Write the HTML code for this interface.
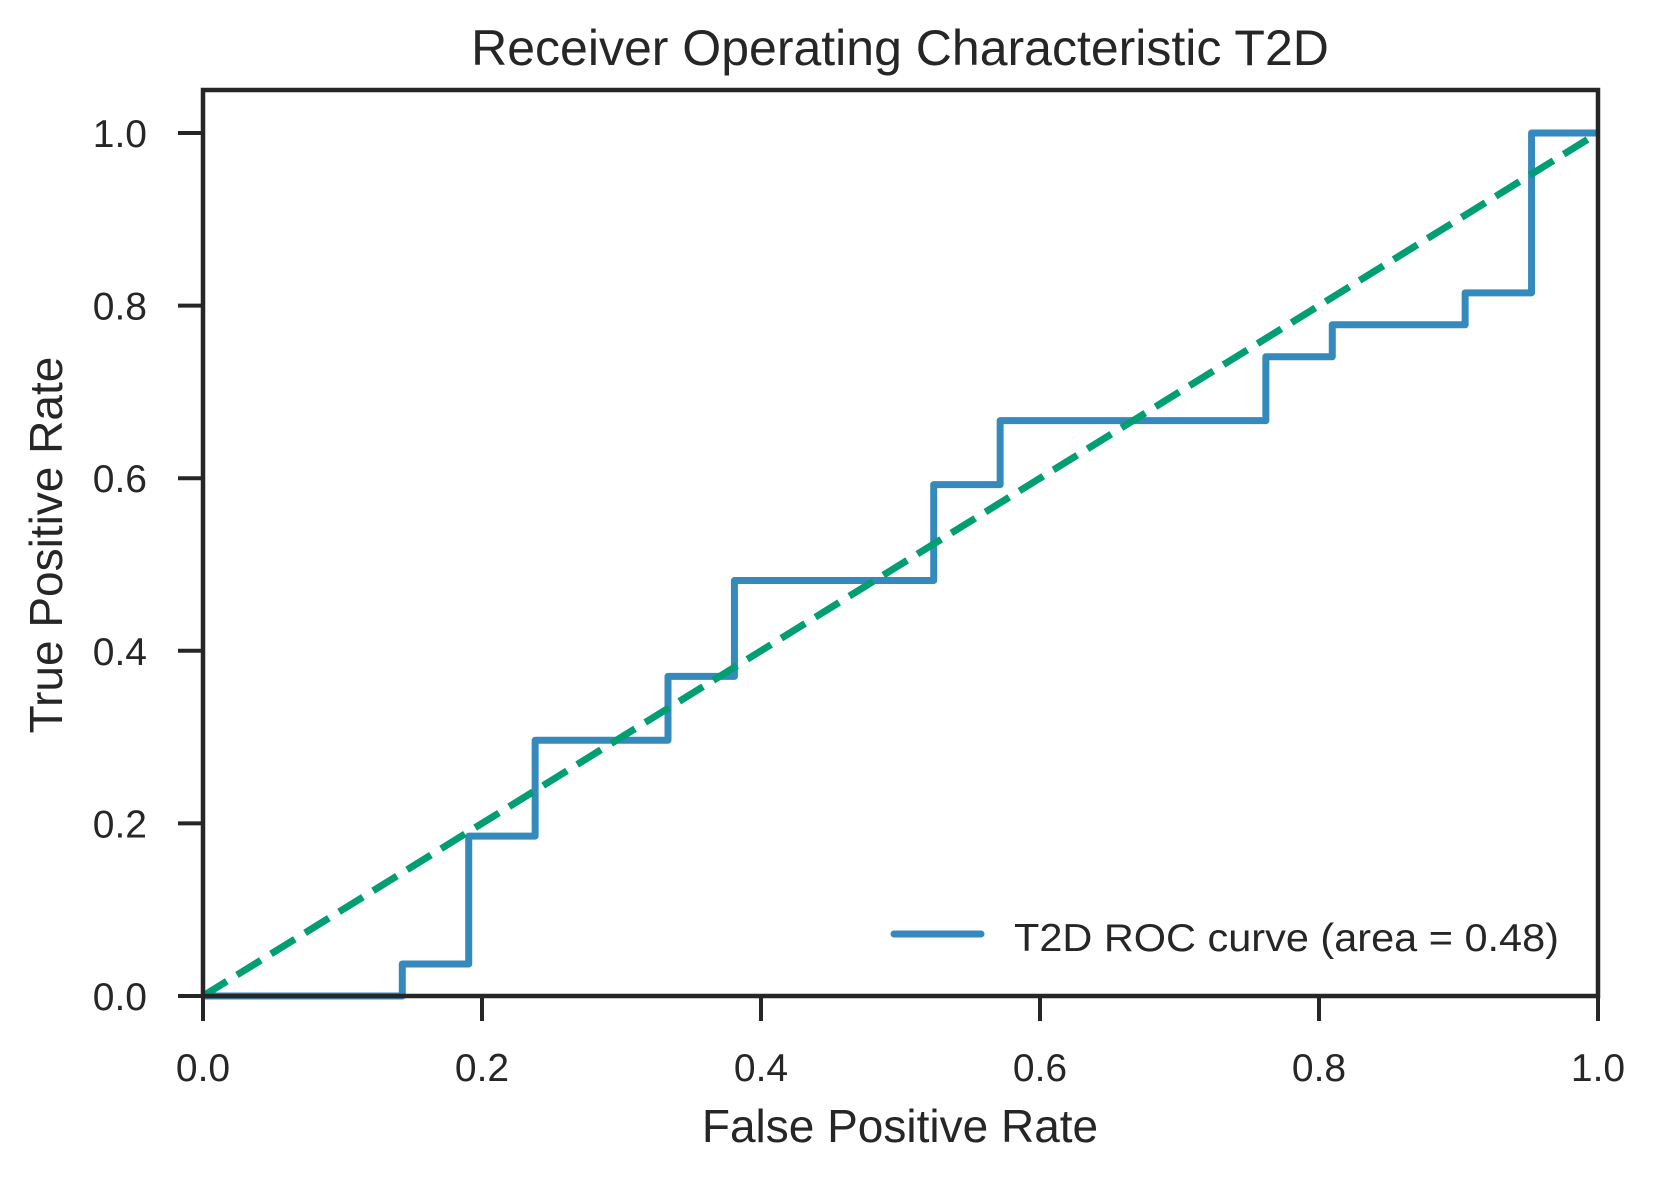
<!DOCTYPE html>
<html><head><meta charset="utf-8"><style>
body{margin:0;background:#fff}
svg text{font-family:"Liberation Sans",sans-serif;fill:#262626}
</style></head><body>
<svg id="chart" width="1656" height="1181" xmlns="http://www.w3.org/2000/svg">
<text x="900" y="65" font-size="50" text-anchor="middle">Receiver Operating Characteristic T2D</text>
<g id="series"></g>
<rect x="203" y="90" width="1395" height="906" fill="none" stroke="#262626" stroke-width="4.5"/>
<g id="axes"></g>
<text x="900" y="1142" font-size="46" text-anchor="middle">False Positive Rate</text>
<text transform="translate(62,545) rotate(-90)" font-size="46" text-anchor="middle">True Positive Rate</text>
<g>
<line x1="894" y1="934" x2="981" y2="934" stroke="#348abd" stroke-width="7" stroke-linecap="round"/>
<text x="1014" y="951" font-size="39" textLength="545" lengthAdjust="spacingAndGlyphs">T2D ROC curve (area = 0.48)</text>
</g>
</svg>
<script>
const fpr=[0,3/21,3/21,4/21,4/21,5/21,5/21,7/21,7/21,8/21,8/21,11/21,11/21,12/21,12/21,16/21,16/21,17/21,17/21,19/21,19/21,20/21,20/21,1];
const tpr=[0,0,1/27,1/27,5/27,5/27,8/27,8/27,10/27,10/27,13/27,13/27,16/27,16/27,18/27,18/27,20/27,20/27,21/27,21/27,22/27,22/27,1,1];
const diagX=[0,1];
const diagY=[0,1];
const xTicks=[0,0.2,0.4,0.6,0.8,1.0];
const yTicks=[0,0.2,0.4,0.6,0.8,1.0];
const X=v=>203+v*1395;
const Y=v=>996-v*863;
const NS="http://www.w3.org/2000/svg";
const series=document.getElementById('series');
const axes=document.getElementById('axes');
function mk(tag,attrs,parent){const e=document.createElementNS(NS,tag);for(const k in attrs)e.setAttribute(k,attrs[k]);parent.appendChild(e);return e;}
const roc=mk('polyline',{points:fpr.map((f,i)=>X(f)+','+Y(tpr[i])).join(' '),fill:'none',stroke:'#348abd','stroke-width':7,'stroke-linejoin':'round'},series);


const diag=mk('line',{x1:X(diagX[0]),y1:Y(diagY[0]),x2:X(diagX[1]),y2:Y(diagY[1]),stroke:'#009e73','stroke-width':7,'stroke-dasharray':'28 12'},series);


xTicks.forEach(t=>{
  const l=mk('line',{x1:X(t),x2:X(t),y1:996,y2:1021,stroke:'#262626','stroke-width':4},axes);
  
  
  const tx=mk('text',{x:X(t),y:1081,'font-size':39,'text-anchor':'middle'},axes);
  tx.textContent=t.toFixed(1);
  
  
});
yTicks.forEach(t=>{
  const l=mk('line',{x1:178,x2:203,y1:Y(t),y2:Y(t),stroke:'#262626','stroke-width':4},axes);
  
  
  const tx=mk('text',{x:147,y:Y(t)+14,'font-size':39,'text-anchor':'end'},axes);
  tx.textContent=t.toFixed(1);
  
  
});
</script>
</body></html>
